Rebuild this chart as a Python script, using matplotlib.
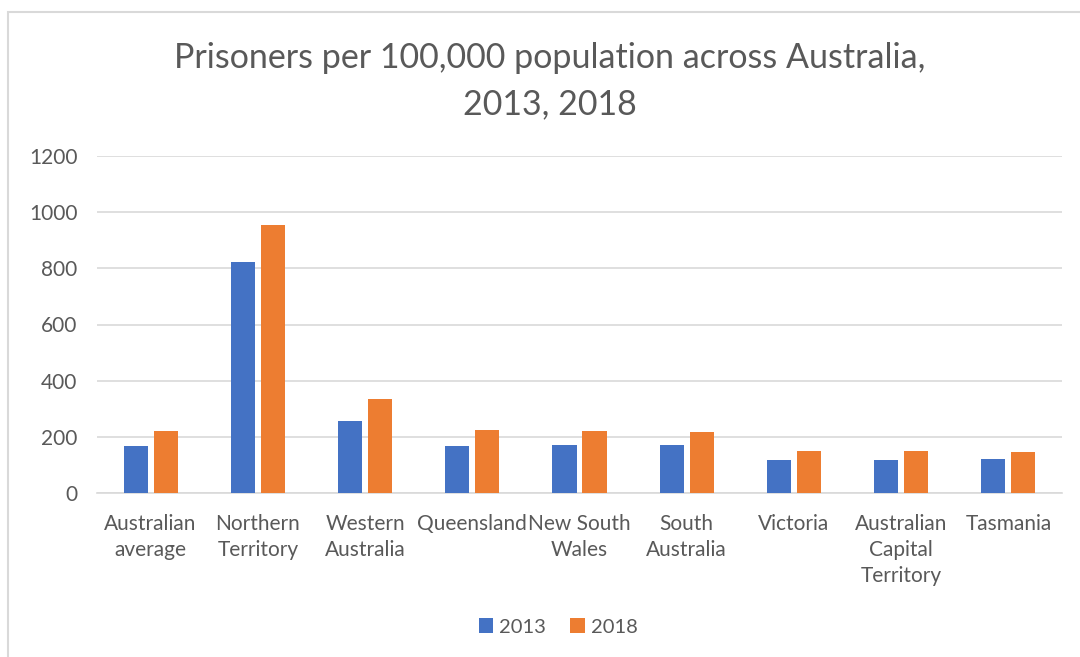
import matplotlib
matplotlib.use("Agg")
import matplotlib.pyplot as plt
import numpy as np
from matplotlib.patches import Rectangle

plt.rcParams.update({
    "font.family": ["Lato", "DejaVu Sans"],
    "figure.facecolor": "white",
    "axes.facecolor": "white",
})

categories = ["Australian\naverage", "Northern\nTerritory", "Western\nAustralia",
              "Queensland", "New South\nWales", "South\nAustralia", "Victoria",
              "Australian\nCapital\nTerritory", "Tasmania"]
years = ["2013", "2018"]
values_2013 = [168, 821, 256, 167, 171, 171, 119, 117, 120]
values_2018 = [219, 956, 333, 226, 221, 217, 151, 151, 146]
yticks = [0, 200, 400, 600, 800, 1000, 1200]

TEXT = "#595959"
GRID = "#d9d9d9"

fig = plt.figure(figsize=(10.8, 6.57), dpi=100)
# chart border: only top and left edges fall inside the image
fig.patches.append(Rectangle((8 / 1080, -0.1), 1.2, 1.1 - 12 / 657, transform=fig.transFigure,
                             fill=False, edgecolor=GRID, linewidth=1.5))

ax = fig.add_axes([97 / 1080, 1 - 493 / 657, (1062 - 97) / 1080, (493 - 156) / 657])
x = np.arange(len(categories))
w = 0.225
ax.bar(x - 0.14, values_2013, w, color="#4472C4", label=years[0], zorder=3)
ax.bar(x + 0.14, values_2018, w, color="#ED7D31", label=years[1], zorder=3)

ax.set_xlim(-0.5, len(categories) - 0.5)
ax.set_ylim(0, 1200)
ax.set_yticks(yticks)
ax.yaxis.grid(True, color=GRID, linewidth=1.2, zorder=0)
for s in ["top", "right", "left"]:
    ax.spines[s].set_visible(False)
ax.spines["bottom"].set_color(GRID)
ax.spines["bottom"].set_linewidth(1.2)
ax.tick_params(axis="both", length=0, labelsize=15, colors=TEXT)
ax.tick_params(axis="y", pad=14)
ax.tick_params(axis="x", pad=15)
ax.set_xticks(x)
ax.set_xticklabels(categories, linespacing=1.38, va="top")

fig.text(0.509, 1 - 81 / 657, "Prisoners per 100,000 population across Australia,\n2013, 2018",
         ha="center", va="center", fontsize=24.5, color=TEXT, linespacing=1.55)

fig.legend(loc="center", bbox_to_anchor=(0.517, 1 - 627 / 657), ncol=2, frameon=False,
           fontsize=14.5, labelcolor=TEXT, handlelength=0.7, handleheight=0.7,
           columnspacing=1.2, handletextpad=0.3)

fig.savefig("out.png", dpi=100, facecolor="white")
plt.close(fig)
